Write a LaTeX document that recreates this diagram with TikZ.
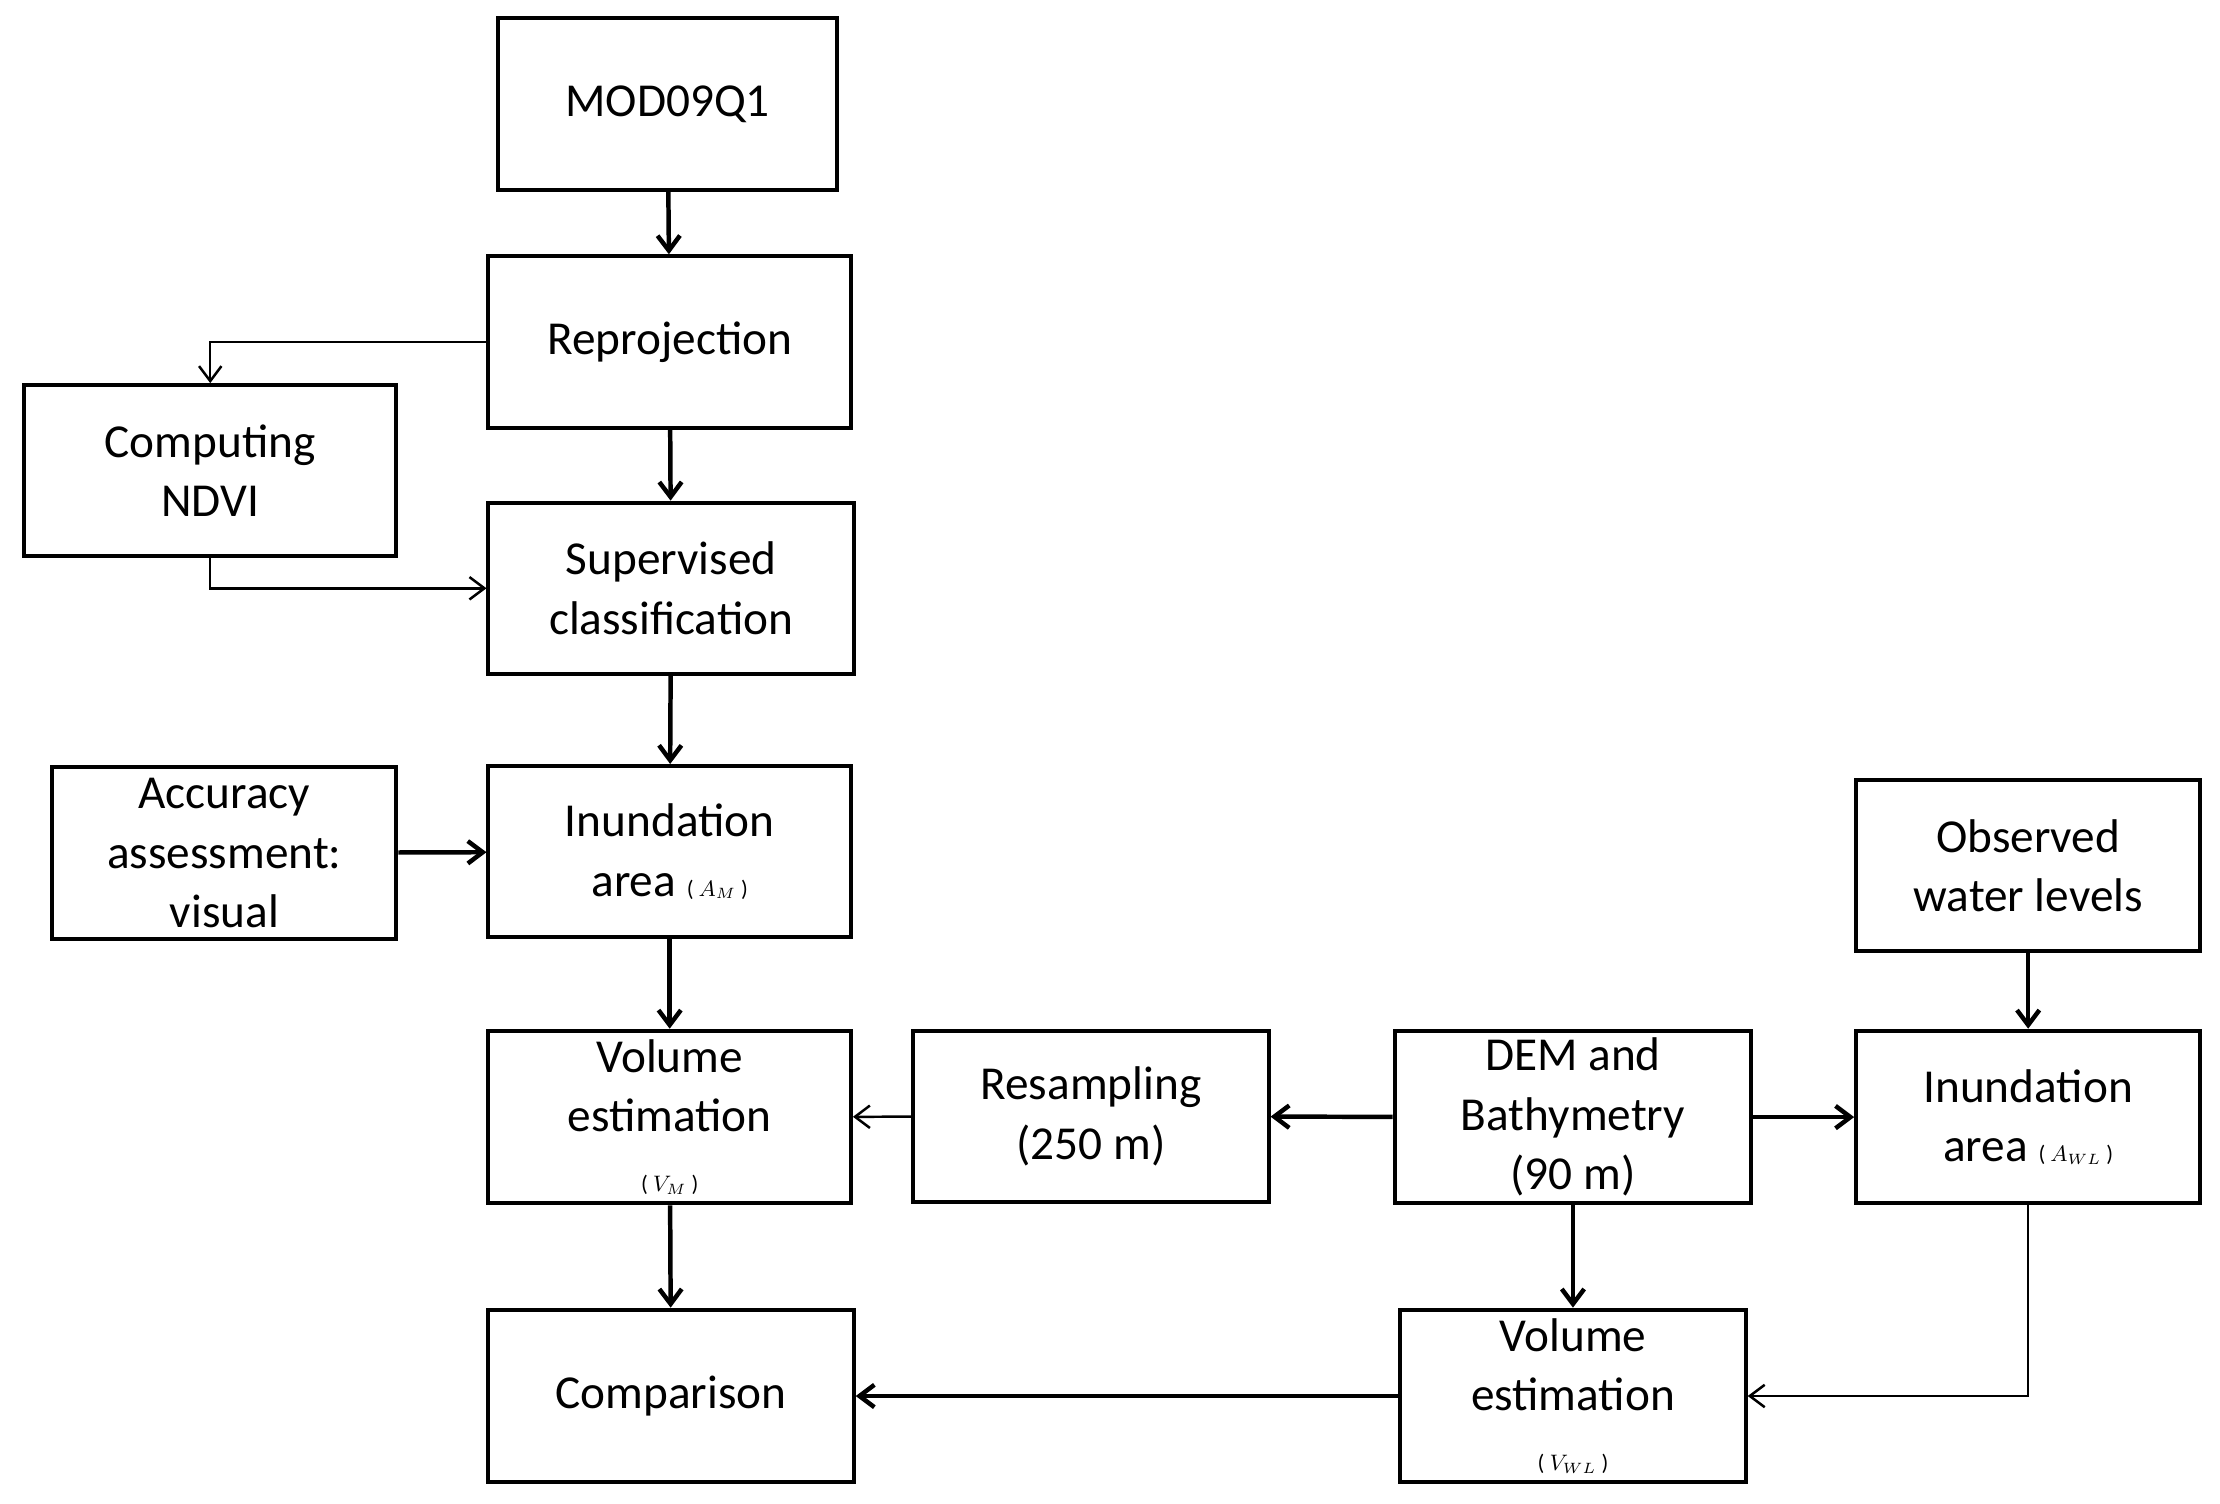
\documentclass[tikz,border=0pt]{standalone}
\usepackage{fontspec}
\setmainfont{Carlito}
\usetikzlibrary{arrows.meta}
\begin{document}
\begin{tikzpicture}[x=0.02cm,y=-0.02cm,
  box/.style={draw,line width=1.6pt,align=center,inner sep=0pt,font=\fontsize{19}{24}\selectfont},
  thk/.style={line width=1.8pt,-{Straight Barb[length=6pt,width=9pt]}},
  thn/.style={line width=1pt,-{Straight Barb[length=6pt,width=9pt]}}]
\useasboundingbox (0,0) rectangle (1568,1062);
% boxes: centre, width, height in reference pixels
\node[box,minimum width=239*0.02cm,minimum height=121*0.02cm] (mod) at (471.5,73.5) {MOD09Q1};
\node[box,minimum width=256*0.02cm,minimum height=121*0.02cm] (rep) at (473,241.5) {Reprojection};
\node[box,minimum width=263*0.02cm,minimum height=121*0.02cm] (ndvi) at (148.5,332.5) {Computing\\NDVI};
\node[box,minimum width=258*0.02cm,minimum height=121*0.02cm] (sup) at (474,415.5) {Supervised\\classification};
\node[box,minimum width=243*0.02cm,minimum height=121*0.02cm] (acc) at (158.5,602.5) {Accuracy\\assessment:\\visual};
\node[box,minimum width=256*0.02cm,minimum height=121*0.02cm] (inm) at (473,601.5) {Inundation\\area {\small( $A_M$ )}};
\node[box,minimum width=256*0.02cm,minimum height=122*0.02cm] (vm) at (473,789) {Volume\\estimation\\{\small( $V_M$ )}};
\node[box,minimum width=251*0.02cm,minimum height=121*0.02cm] (res) at (770.5,788.5) {Resampling\\(250 m)};
\node[box,minimum width=252*0.02cm,minimum height=122*0.02cm] (dem) at (1111,789) {DEM and\\Bathymetry\\(90 m)};
\node[box,minimum width=243*0.02cm,minimum height=122*0.02cm] (inw) at (1432.5,789) {Inundation\\area {\small( $A_{WL}$ )}};
\node[box,minimum width=243*0.02cm,minimum height=121*0.02cm] (obs) at (1432.5,611.5) {Observed\\water levels};
\node[box,minimum width=258*0.02cm,minimum height=122*0.02cm] (cmp) at (474,986) {Comparison};
\node[box,minimum width=244*0.02cm,minimum height=122*0.02cm] (vw) at (1111,986) {Volume\\estimation\\{\small( $V_{WL}$ )}};
% connectors
\draw[thk] (mod) -- (rep);
\draw[thk] (rep) -- (sup);
\draw[thk] (sup) -- (inm);
\draw[thk] (inm) -- (vm);
\draw[thk] (vm) -- (cmp);
\draw[thk] (acc) -- (inm);
\draw[thk] (dem) -- (res);
\draw[thk] (dem) -- (inw);
\draw[thk] (dem) -- (vw);
\draw[thk] (obs) -- (inw);
\draw[thk] (vw) -- (cmp);
\draw[thn] (res) -- (vm);
\draw[thn] (rep.west) -| (ndvi.north);
\draw[thn] (ndvi.south) |- (sup.west);
\draw[thn] (inw.south) |- (vw.east);
\end{tikzpicture}
\end{document}
